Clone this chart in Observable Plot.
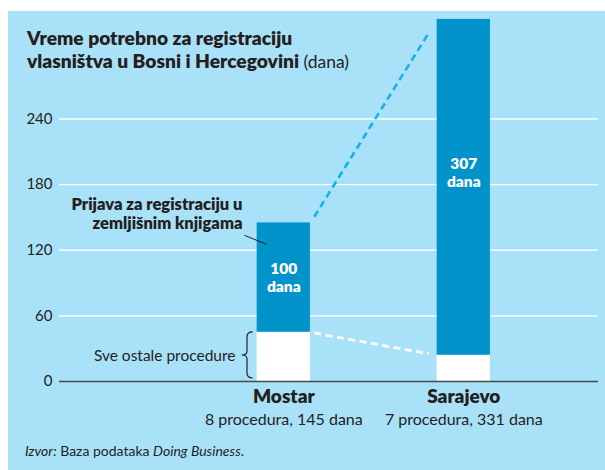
<!DOCTYPE html>
<html>
<head>
<meta charset="utf-8">
<script src="https://cdn.jsdelivr.net/npm/d3@7"></script>
<script src="https://cdn.jsdelivr.net/npm/@observablehq/plot@0.6"></script>
<style>
  html, body { margin: 0; padding: 0; background: #ffffff; }
  #wrap { position: relative; width: 605px; height: 470px; overflow: hidden; font-family: Lato, 'DejaVu Sans Condensed', sans-serif; color: #231f20; }
  #panel { position: absolute; left: 8px; top: 11px; width: 597px; height: 459px; background: #a9e1f9; }
  .tline { position: absolute; left: 27px; font-size: 19.2px; font-weight: 800; line-height: 20px; height: 20px; white-space: nowrap; }
  .tline span { font-weight: normal; font-size: 17.5px; }
  #chart { position: absolute; left: 0; top: 0; }
  #source { position: absolute; left: 25px; top: 444px; font-size: 14px; line-height: 14px; white-space: nowrap; }
</style>
</head>
<body>
<div id="wrap">
  <div id="panel"></div>
  <div id="chart"></div>
  <div class="tline" style="top:27.5px">Vreme potrebno za registraciju</div>
  <div class="tline" style="top:50.5px">vlasništva u Bosni i Hercegovini <span>(dana)</span></div>
  <div id="source"><i>Izvor:</i> Baza podataka <i>Doing Business</i>.</div>
</div>
<script>
const FONT = "Lato, 'DejaVu Sans Condensed', sans-serif";

// Data
const cities = ["Mostar", "Sarajevo"];
const otherProcedureDays = [45, 24];
const registrationDays = [100, 307];
const procedureCounts = [8, 7];
const totalDays = [145, 331];
const yTicks = [0, 60, 120, 180, 240];
const gridTicks = [60, 120, 180, 240];

const rows = cities.map((city, i) => ({
  i, city,
  other: otherProcedureDays[i],
  reg: registrationDays[i],
  top: otherProcedureDays[i] + registrationDays[i],
  sub: `${procedureCounts[i]} procedura, ${totalDays[i]} dana`
}));

const hw = 0.148;               // half bar width in x units
const t0 = 0.03, t1 = 0.935;    // connector trimming
const xa = rows[0].i + hw, xb = rows[1].i - hw;
const connectors = [
  {key: "top", color: "#17b0e8", width: 2.6},
  {key: "other", color: "#ffffff", width: 2.8}
].map(c => {
  const a = rows[0][c.key], b = rows[1][c.key];
  return {
    x1: xa + t0 * (xb - xa), x2: xa + t1 * (xb - xa),
    y1: a + t0 * (b - a), y2: a + t1 * (b - a),
    color: c.color, width: c.width
  };
});

const chart = Plot.plot({
  width: 605,
  height: 470,
  marginLeft: 59,
  marginRight: 7,
  marginTop: 20,
  marginBottom: 89,
  x: {type: "linear", domain: [0, 1], range: [283.3, 463.3], axis: null},
  y: {domain: [0, 330]},
  style: {background: "transparent", fontFamily: FONT, color: "#231f20", overflow: "visible"},
  marks: [
    Plot.ruleY(gridTicks, {stroke: "#ffffff", strokeWidth: 1.4}),
    Plot.axisY(yTicks, {tickSize: 0, tickPadding: 7, fontSize: 15, label: null, fill: "#231f20"}),
    Plot.rect(rows, {x1: d => d.i - hw, x2: d => d.i + hw, y1: 0, y2: "other", fill: "#ffffff"}),
    Plot.rect(rows, {x1: d => d.i - hw, x2: d => d.i + hw, y1: "other", y2: "top", fill: "#0393cb"}),
    Plot.link(connectors, {x1: "x1", x2: "x2", y1: "y1", y2: "y2", stroke: "color", strokeWidth: "width", strokeDasharray: "7,4.5"}),
    Plot.ruleY([0], {stroke: "#4a4a4a", strokeWidth: 1.6}),
    // value labels inside blue segments
    Plot.text(rows.filter(d => d.i === 0), {x: "i", y: d => d.other + d.reg / 2, text: d => `${d.reg}\ndana`, fill: "#ffffff", fontSize: 15.5, fontWeight: 800, lineHeight: 1.16, dy: 0}),
    Plot.text(rows.filter(d => d.i === 1), {x: "i", y: d => d.other + d.reg / 2, text: d => `${d.reg}\ndana`, fill: "#ffffff", fontSize: 15.5, fontWeight: 800, lineHeight: 1.16, dy: -15}),
    // category labels
    Plot.text(rows, {x: "i", y: 0, text: "city", fontSize: 19, fontWeight: 800, lineAnchor: "bottom", dy: 21, fill: "#231f20"}),
    Plot.text(rows, {x: "i", y: 0, text: "sub", fontSize: 16, lineAnchor: "bottom", dy: 43.6, fill: "#231f20"}),
    // annotations
    Plot.text(rows.filter(d => d.i === 0), {x: "i", y: "top", text: () => "Prijava za registraciju u\nzemljišnim knjigama", textAnchor: "end", lineAnchor: "bottom", fontSize: 16.5, fontWeight: 800, lineHeight: 1.14, dx: -41.3, dy: 6, fill: "#231f20"}),
    Plot.link(rows.filter(d => d.i === 0), {x1: d => d.i - 0.218, y1: d => d.top - 11.4, x2: d => d.i - 0.096, y2: d => d.top - 19.6, stroke: "#231f20", strokeWidth: 1}),
    Plot.text(rows.filter(d => d.i === 0), {x: "i", y: d => d.other / 2, text: () => "Sve ostale procedure", textAnchor: "end", lineAnchor: "bottom", fontSize: 15.5, dx: -48.3, dy: 4, fill: "#231f20"})
  ]
});

document.getElementById("chart").appendChild(chart);

// curly brace spanning the "other procedures" segment of Mostar
const sx = chart.scale("x"), sy = chart.scale("y");
const m = rows[0];
const cx = sx.apply(m.i);
const xr = cx - 30.6, xm = cx - 36.3, xl = cx - 41.6;
const yt = sy.apply(m.other) + 0.2, yb = sy.apply(0) - 3, ymid = (yt + yb) / 2;
const path = `M${xr},${yt} Q${xm},${yt} ${xm},${yt + 5} L${xm},${ymid - 4} Q${xm},${ymid} ${xl},${ymid} Q${xm},${ymid} ${xm},${ymid + 4} L${xm},${yb - 5} Q${xm},${yb} ${xr},${yb}`;
d3.select(chart).append("path").attr("d", path).attr("fill", "none").attr("stroke", "#231f20").attr("stroke-width", 1.2);
</script>
</body>
</html>
